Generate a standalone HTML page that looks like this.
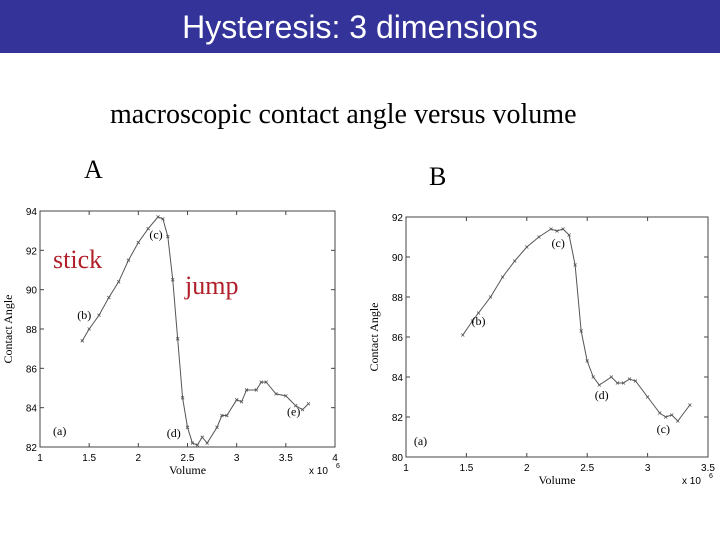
<!DOCTYPE html>
<html><head><meta charset="utf-8"><style>
body{margin:0;width:720px;height:540px;background:#fff;overflow:hidden;position:relative;font-family:"Liberation Serif",serif}
#hdr{position:absolute;left:0;top:0;width:720px;height:53px;background:#333399;color:#fff;font:32px "Liberation Sans",sans-serif;text-align:center;line-height:55px}
.t{position:absolute;white-space:nowrap}
</style></head><body>
<div id="hdr">Hysteresis: 3 dimensions</div>
<div class="t" style="left:110px;top:99px;font-size:28px">macroscopic contact angle versus volume</div>
<div class="t" style="left:84px;top:155px;font-size:26px">A</div>
<div class="t" style="left:429px;top:162px;font-size:26px">B</div>
<svg id="svg" width="720" height="540" style="position:absolute;left:0;top:0"></svg>
<div class="t" style="left:53px;top:245px;font-size:26px;color:#b0202a">stick</div>
<div class="t" style="left:185px;top:271px;font-size:26px;color:#b0202a">jump</div>
<script>
const aX=[1.43,1.5,1.6,1.7,1.8,1.9,2.0,2.1,2.2,2.25,2.3,2.35,2.4,2.45,2.5,2.55,2.6,2.65,2.7,2.8,2.85,2.9,3.0,3.05,3.1,3.2,3.25,3.3,3.4,3.5,3.6,3.67,3.73];
const aY=[87.4,88,88.7,89.6,90.4,91.5,92.4,93.1,93.7,93.6,92.7,90.5,87.5,84.5,83,82.2,82.1,82.5,82.2,83,83.6,83.6,84.4,84.3,84.9,84.9,85.3,85.3,84.7,84.6,84.1,83.9,84.2];
const bX=[1.47,1.55,1.6,1.7,1.8,1.9,2.0,2.1,2.2,2.25,2.3,2.35,2.4,2.45,2.5,2.55,2.6,2.7,2.75,2.8,2.85,2.9,3.0,3.1,3.15,3.2,3.25,3.35];
const bY=[86.1,86.8,87.2,88,89,89.8,90.5,91,91.4,91.3,91.4,91.1,89.6,86.3,84.8,84,83.6,84,83.7,83.7,83.9,83.8,83,82.2,82,82.1,81.8,82.6];
const aXt=["1","1.5","2","2.5","3","3.5","4"],aYt=["82","84","86","88","90","92","94"];
const bXt=["1","1.5","2","2.5","3","3.5"],bYt=["80","82","84","86","88","90","92"];
const svg=document.getElementById('svg');const NS='http://www.w3.org/2000/svg';
function mk(t,a,txt){const e=document.createElementNS(NS,t);for(const k in a)e.setAttribute(k,a[k]);if(txt!=null)e.textContent=txt;svg.appendChild(e);return e;}
function chart(id,L,R,T,B,x0,x1,y0,y1,xt,yt,xs,ys,labels){
 const sx=v=>L+(v-x0)/(x1-x0)*(R-L),sy=v=>B-(v-y0)/(y1-y0)*(B-T);
 let e=mk('rect',{x:L,y:T,width:R-L,height:B-T,fill:'none',stroke:'#444','stroke-width':1});
 
 xt.forEach(s=>{const x=sx(+s);mk('line',{x1:x,x2:x,y1:B,y2:B-4,stroke:'#444'});mk('line',{x1:x,x2:x,y1:T,y2:T+4,stroke:'#444'});
  e=mk('text',{x:x,y:B+14,'font-size':10,'text-anchor':'middle','font-family':'Liberation Sans'},s);
  });
 yt.forEach(s=>{const y=sy(+s);mk('line',{x1:L,x2:L+4,y1:y,y2:y,stroke:'#444'});mk('line',{x1:R,x2:R-4,y1:y,y2:y,stroke:'#444'});
  e=mk('text',{x:L-3,y:y+4,'font-size':10,'text-anchor':'end','font-family':'Liberation Sans'},s);
  });
 e=mk('polyline',{points:xs.map((v,i)=>sx(v)+','+sy(ys[i])).join(' '),fill:'none',stroke:'#555','stroke-width':1});
 
 xs.forEach((v,i)=>{const x=sx(v),y=sy(ys[i]);e=mk('path',{d:`M${x-1.5},${y-1.5}L${x+1.5},${y+1.5}M${x-1.5},${y+1.5}L${x+1.5},${y-1.5}`,stroke:'#555','stroke-width':0.8});
  });
 e=mk('text',{x:(L+R)/2,y:B+27,'font-size':12,'text-anchor':'middle','font-family':'Liberation Serif'},'Volume');
 
 e=mk('text',{x:R-26,y:B+27,'font-size':10,'font-family':'Liberation Sans'},'x 10');
 mk('text',{x:R+1,y:B+21,'font-size':7,'font-family':'Liberation Sans'},'6');
 e=mk('text',{x:0,y:0,'font-size':12,'text-anchor':'middle','font-family':'Liberation Serif',transform:`translate(${L-28},${(T+B)/2}) rotate(-90)`},'Contact Angle');
 
 labels.forEach(l=>{e=mk('text',{x:sx(l[1]),y:sy(l[2]),'font-size':12,'text-anchor':'middle','font-family':'Liberation Serif'},l[0]);
  });
}
chart('chart-a',40,335,211,447,1,4,82,94,aXt,aYt,aX,aY,[['(a)',1.2,82.6],['(b)',1.45,88.5],['(c)',2.18,92.6],['(d)',2.36,82.5],['(e)',3.58,83.6]]);
chart('chart-b',406,708,217,457,1,3.5,80,92,bXt,bYt,bX,bY,[['(a)',1.12,80.6],['(b)',1.6,86.6],['(c)',2.26,90.5],['(d)',2.62,82.9],['(c)',3.13,81.2]]);
</script>
</body></html>
